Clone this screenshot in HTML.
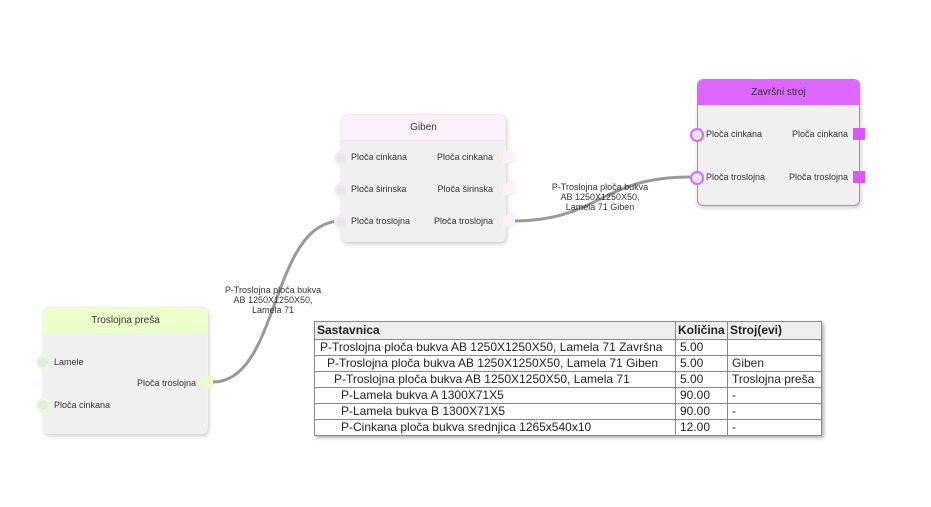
<!DOCTYPE html>
<html><head><meta charset="utf-8"><style>
body{margin:0;width:931px;height:507px;background:#fff;position:relative;overflow:hidden;font-family:"Liberation Sans",sans-serif;}
.node{position:absolute;background:#f0f0f0;border-radius:6px;box-shadow:1px 2px 4px rgba(0,0,0,.2);}
.hdr{height:25px;line-height:25px;text-align:center;font-size:10px;color:#333;border-radius:5px 5px 0 0;}
.lbl{position:absolute;font-size:9px;color:#333;white-space:nowrap;}
.c{position:absolute;width:10px;height:10px;border-radius:50%;background:#e8e8e8;}
.s{position:absolute;width:12px;height:12px;}
table{position:absolute;left:314px;top:321px;border-collapse:collapse;font-size:12px;color:#222;box-shadow:2px 2px 3px rgba(0,0,0,.3);table-layout:fixed;width:507px;}
td,th{border:1px solid #888;padding:0 2px 0 4px;height:15px;line-height:15px;white-space:nowrap;text-align:left;overflow:hidden;}
th{background:#eee;font-weight:bold;height:17px;padding-left:2px;}
.cap{position:absolute;font-size:9px;color:#333;text-align:center;line-height:10px;}
</style></head><body>
<svg width="931" height="507" style="position:absolute;left:0;top:0">
<path d="M213,382 C280,382 270,221 341,221" fill="none" stroke="#999" stroke-width="3"/>
<path d="M512,221 C600,221 600,177 690,177" fill="none" stroke="#999" stroke-width="3"/>
</svg>
<div class="cap" style="left:213px;top:285px;width:120px">P-Troslojna ploča bukva<br>AB 1250X1250X50,<br>Lamela 71</div>
<div class="cap" style="left:535px;top:182px;width:130px">P-Troslojna ploča bukva<br>AB 1250X1250X50,<br>Lamela 71 Giben</div>

<div class="node" style="left:341px;top:114px;width:165px;height:128px;border:1px solid #f8e8f4;box-sizing:border-box">
<div class="hdr" style="background:#fcf0fa;border-bottom:1px solid #f4e4ee">Giben</div></div>
<div class="c" style="left:334px;top:151px;border:2px solid #fbe9f6"></div>
<div class="c" style="left:334px;top:183px;border:2px solid #fbe9f6"></div>
<div class="c" style="left:334px;top:215px;border:2px solid #fbe9f6"></div>
<div class="s" style="left:503px;top:151px;background:#fdf0fa"></div>
<div class="s" style="left:503px;top:183px;background:#fdf0fa"></div>
<div class="s" style="left:503px;top:215px;background:#fdf0fa"></div>
<div class="lbl" style="left:351px;top:152px">Ploča cinkana</div>
<div class="lbl" style="left:351px;top:184px">Ploča širinska</div>
<div class="lbl" style="left:351px;top:216px">Ploča troslojna</div>
<div class="lbl" style="left:430px;top:152px;width:63px;text-align:right">Ploča cinkana</div>
<div class="lbl" style="left:430px;top:184px;width:63px;text-align:right">Ploča širinska</div>
<div class="lbl" style="left:420px;top:216px;width:73px;text-align:right">Ploča troslojna</div>

<div class="node" style="left:697px;top:79px;width:163px;height:127px;border:1px solid #dd66ff;box-sizing:border-box">
<div class="hdr" style="background:#dd66ff;height:25px">Završni stroj</div></div>
<div class="c" style="left:690px;top:128px;border:2px solid #dd66ff"></div>
<div class="c" style="left:690px;top:171px;border:2px solid #dd66ff"></div>
<div class="s" style="left:853px;top:128px;background:#dd55ff"></div>
<div class="s" style="left:853px;top:171px;background:#dd55ff"></div>
<div class="lbl" style="left:706px;top:129px">Ploča cinkana</div>
<div class="lbl" style="left:706px;top:172px">Ploča troslojna</div>
<div class="lbl" style="left:770px;top:129px;width:78px;text-align:right">Ploča cinkana</div>
<div class="lbl" style="left:770px;top:172px;width:78px;text-align:right">Ploča troslojna</div>

<div class="node" style="left:43px;top:307px;width:165px;height:127px;border:1px solid #e6ffcc;box-sizing:border-box">
<div class="hdr" style="background:#eaffcc">Troslojna preša</div></div>
<div class="c" style="left:36px;top:355px;border:2px solid #e6ffcc"></div>
<div class="c" style="left:36px;top:398px;border:2px solid #e6ffcc"></div>
<div class="s" style="left:201px;top:376px;background:#e6ffcc"></div>
<div class="lbl" style="left:54px;top:357px">Lamele</div>
<div class="lbl" style="left:54px;top:400px">Ploča cinkana</div>
<div class="lbl" style="left:120px;top:378px;width:76px;text-align:right">Ploča troslojna</div>

<table>
<colgroup><col style="width:361px"><col style="width:52px"><col style="width:94px"></colgroup>
<tr><th>Sastavnica</th><th>Količina</th><th>Stroj(evi)</th></tr>
<tr><td style="padding-left:5px">P-Troslojna ploča bukva AB 1250X1250X50, Lamela 71 Završna</td><td>5.00</td><td></td></tr>
<tr><td style="padding-left:12px">P-Troslojna ploča bukva AB 1250X1250X50, Lamela 71 Giben</td><td>5.00</td><td>Giben</td></tr>
<tr><td style="padding-left:19px">P-Troslojna ploča bukva AB 1250X1250X50, Lamela 71</td><td>5.00</td><td>Troslojna preša</td></tr>
<tr><td style="padding-left:26px">P-Lamela bukva A 1300X71X5</td><td>90.00</td><td>-</td></tr>
<tr><td style="padding-left:26px">P-Lamela bukva B 1300X71X5</td><td>90.00</td><td>-</td></tr>
<tr><td style="padding-left:26px">P-Cinkana ploča bukva srednjica 1265x540x10</td><td>12.00</td><td>-</td></tr>
</table>
</body></html>
